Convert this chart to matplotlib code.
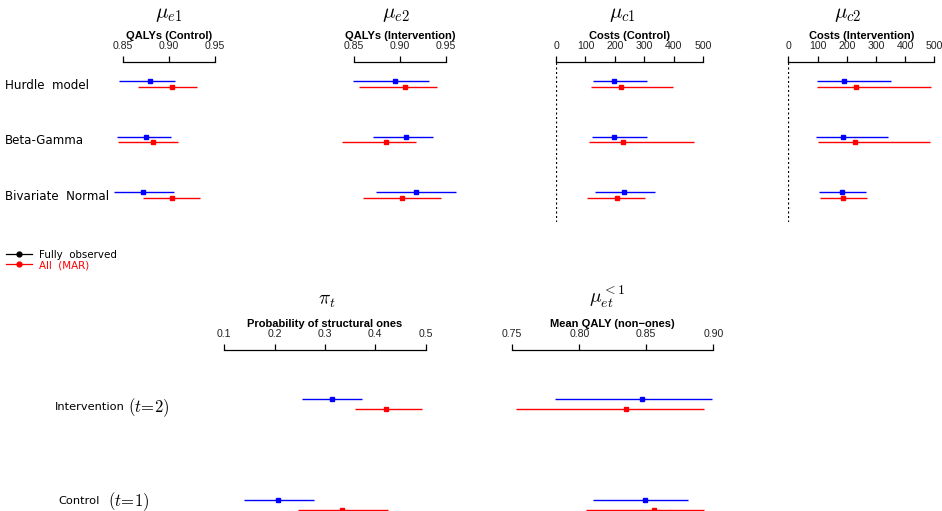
import numpy as np
import matplotlib
matplotlib.use('Agg')
import matplotlib.pyplot as plt
from matplotlib.lines import Line2D
from matplotlib.transforms import blended_transform_factory

W, H = 942, 511

# ---- data: posterior means and 95% intervals ----
models = ['Hurdle  model', 'Beta-Gamma', 'Bivariate  Normal']

mu_e1_obs = [0.880, 0.875, 0.8725]
mu_e1_obs_lo = [0.846, 0.8435, 0.840]
mu_e1_obs_hi = [0.907, 0.902, 0.906]
mu_e1_mar = [0.904, 0.883, 0.904]
mu_e1_mar_lo = [0.867, 0.845, 0.8725]
mu_e1_mar_hi = [0.931, 0.910, 0.934]

mu_e2_obs = [0.895, 0.907, 0.917]
mu_e2_obs_lo = [0.849, 0.870, 0.874]
mu_e2_obs_hi = [0.932, 0.936, 0.961]
mu_e2_mar = [0.905, 0.885, 0.902]
mu_e2_mar_lo = [0.855, 0.836, 0.859]
mu_e2_mar_hi = [0.940, 0.917, 0.945]

mu_c1_obs = [197, 198, 232]
mu_c1_obs_lo = [125, 122, 133]
mu_c1_obs_hi = [308, 311, 337]
mu_c1_mar = [220, 229, 206]
mu_c1_mar_lo = [118, 112, 107]
mu_c1_mar_hi = [398, 468, 303]

mu_c2_obs = [192, 187, 184]
mu_c2_obs_lo = [98, 95, 104]
mu_c2_obs_hi = [350, 341, 267]
mu_c2_mar = [232, 227, 187]
mu_c2_mar_lo = [99, 102, 108]
mu_c2_mar_hi = [489, 485, 268]

arms = ['Intervention', 'Control']
arm_t = [r'$(t\!=\!2)$', r'$(t\!=\!1)$']

pi_obs = [0.313, 0.206]
pi_obs_lo = [0.255, 0.140]
pi_obs_hi = [0.374, 0.279]
pi_mar = [0.422, 0.334]
pi_mar_lo = [0.359, 0.246]
pi_mar_hi = [0.492, 0.425]

mu_et_obs = [0.847, 0.849]
mu_et_obs_lo = [0.782, 0.810]
mu_et_obs_hi = [0.899, 0.881]
mu_et_mar = [0.835, 0.856]
mu_et_mar_lo = [0.753, 0.805]
mu_et_mar_hi = [0.893, 0.893]

plt.rcParams['font.family'] = ['DejaVu Sans']
plt.rcParams['mathtext.fontset'] = 'cm'

fig = plt.figure(figsize=(W / 100, H / 100), dpi=100)


def make_axes(x0, x1, y0, y1, ticks, ticklabels, label, ylim, zero_line=False):
    ax = fig.add_axes([x0 / W, 1 - y1 / H, (x1 - x0) / W, (y1 - y0) / H])
    ax.set_facecolor('none')
    for s in ['left', 'right', 'bottom']:
        ax.spines[s].set_visible(False)
    ax.spines['top'].set_linewidth(0.9)
    ax.set_xlim(ticks[0], ticks[-1])
    ax.set_ylim(*ylim)
    ax.xaxis.tick_top()
    ax.set_xticks(ticks)
    ax.set_xticklabels(ticklabels, fontfamily='Liberation Sans', fontsize=7.6,
                       color='#222222')
    ax.tick_params(axis='x', direction='out', length=4, width=0.9, pad=4)
    ax.set_yticks([])
    ax.xaxis.set_label_position('top')
    ax.set_xlabel(label, fontfamily='Liberation Sans', fontweight='bold',
                  fontsize=8, labelpad=1.5)
    if zero_line:
        ax.axvline(0, color='black', lw=0.9, ls=(0, (1.6, 2.0)))
    return ax


def draw_rows(ax, m_obs, lo_obs, hi_obs, m_mar, lo_mar, hi_mar, off=0.05):
    y = np.arange(len(m_obs))
    ax.hlines(y - off, lo_obs, hi_obs, color='#0000ff', lw=1.0, clip_on=False)
    ax.plot(m_obs, y - off, 's', color='#0000ff', ms=2.6, clip_on=False)
    ax.hlines(y + off, lo_mar, hi_mar, color='#ff0000', lw=1.0, clip_on=False)
    ax.plot(m_mar, y + off, 's', color='#ff0000', ms=2.6, clip_on=False)


# ---- top row ----
top_ylim = (2.48, -0.393)
qaly_ticks = [0.85, 0.90, 0.95]
qaly_lab = ['0.85', '0.90', '0.95']
cost_ticks = [0, 100, 200, 300, 400, 500]
cost_lab = [str(t) for t in cost_ticks]

ax1 = make_axes(122.7, 214.7, 62, 222, qaly_ticks, qaly_lab, 'QALYs (Control)', top_ylim)
draw_rows(ax1, mu_e1_obs, mu_e1_obs_lo, mu_e1_obs_hi, mu_e1_mar, mu_e1_mar_lo, mu_e1_mar_hi)
ax2 = make_axes(354.3, 445.7, 62, 222, qaly_ticks, qaly_lab, 'QALYs (Intervention)', top_ylim)
draw_rows(ax2, mu_e2_obs, mu_e2_obs_lo, mu_e2_obs_hi, mu_e2_mar, mu_e2_mar_lo, mu_e2_mar_hi)
ax3 = make_axes(556, 703, 62, 222, cost_ticks, cost_lab, 'Costs (Control)', top_ylim, True)
draw_rows(ax3, mu_c1_obs, mu_c1_obs_lo, mu_c1_obs_hi, mu_c1_mar, mu_c1_mar_lo, mu_c1_mar_hi)
ax4 = make_axes(788.3, 934.3, 62, 222, cost_ticks, cost_lab, 'Costs (Intervention)', top_ylim, True)
draw_rows(ax4, mu_c2_obs, mu_c2_obs_lo, mu_c2_obs_hi, mu_c2_mar, mu_c2_mar_lo, mu_c2_mar_hi)

row_tr = blended_transform_factory(fig.transFigure, ax1.transData)
for i, name in enumerate(models):
    fig.text(5 / W, i + 0.02, name, fontsize=8.6, va='center', ha='left',
             transform=row_tr)

titles_top = [(168.5, r'$\mu_{e1}$'), (395.5, r'$\mu_{e2}$'),
              (622, r'$\mu_{c1}$'), (848, r'$\mu_{c2}$')]
for x, t in titles_top:
    fig.text(x / W, 1 - 14 / H, t, fontsize=15, ha='center', va='center')

# ---- bottom row ----
bot_ylim = (1.06, -0.54)
pi_ticks = [0.1, 0.2, 0.3, 0.4, 0.5]
mu_ticks = [0.75, 0.80, 0.85, 0.90]

ax5 = make_axes(224.3, 425.7, 350, 511, pi_ticks, [str(t) for t in pi_ticks],
                'Probability of structural ones', bot_ylim)
draw_rows(ax5, pi_obs, pi_obs_lo, pi_obs_hi, pi_mar, pi_mar_lo, pi_mar_hi)
ax6 = make_axes(512.3, 713.3, 350, 511, mu_ticks, ['%.2f' % t for t in mu_ticks],
                'Mean QALY (non\u2212ones)', bot_ylim)
draw_rows(ax6, mu_et_obs, mu_et_obs_lo, mu_et_obs_hi, mu_et_mar, mu_et_mar_lo, mu_et_mar_hi)

arm_tr = blended_transform_factory(fig.transFigure, ax5.transData)
arm_y = [0.03, 0.965]
name_x = [55, 58]
math_x = [128, 108]
for i, name in enumerate(arms):
    fig.text(name_x[i] / W, arm_y[i], name, fontsize=8.2, va='center', ha='left',
             transform=arm_tr)
    fig.text(math_x[i] / W, arm_y[i], arm_t[i], fontsize=12, va='center',
             ha='left', transform=arm_tr)

fig.text(327 / W, 1 - 300 / H, r'$\pi_{t}$', fontsize=14, ha='center', va='center')
fig.text(606.7 / W, 1 - 297 / H, r'$\mu_{et}^{<1}$', fontsize=14, ha='center', va='center')

# ---- legend ----
handles = [Line2D([], [], color='black', marker='o', ms=3.5, lw=0.9),
           Line2D([], [], color='#ff0000', marker='o', ms=3.5, lw=0.9)]
fig.legend(handles, ['Fully  observed', 'All  (MAR)'], loc='upper left',
           bbox_to_anchor=(6 / W, 1 - 250 / H), frameon=False, fontsize=7.4,
           handlelength=2.5, handletextpad=0.7, labelspacing=0.0,
           borderpad=0, borderaxespad=0, labelcolor='linecolor')

fig.savefig('out.png', dpi=100)
